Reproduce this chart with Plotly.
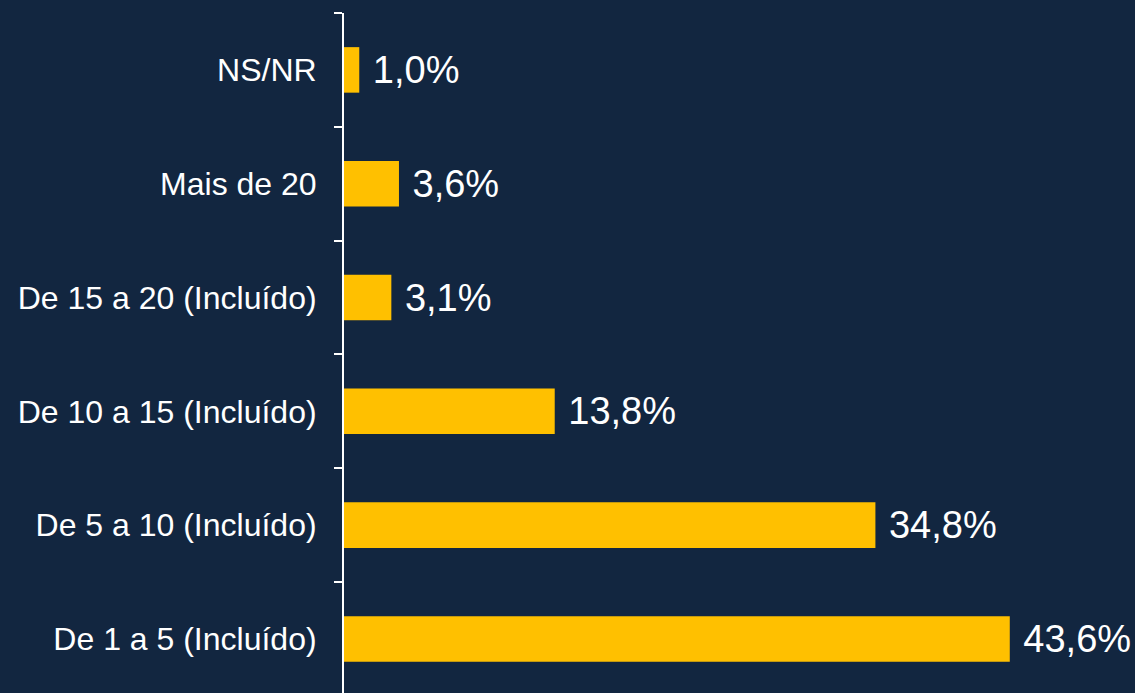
import plotly.graph_objects as go

categories = ["De 1 a 5 (Incluído)", "De 5 a 10 (Incluído)", "De 10 a 15 (Incluído)",
              "De 15 a 20 (Incluído)", "Mais de 20", "NS/NR"]
values = [43.6, 34.8, 13.8, 3.1, 3.6, 1.0]
labels = ["43,6%", "34,8%", "13,8%", "3,1%", "3,6%", "1,0%"]

BG = "#122640"
GOLD = "#FFC000"

fig = go.Figure(go.Bar(
    x=values, y=categories, orientation="h",
    width=0.4,
    marker=dict(color=GOLD, line=dict(width=0)),
    text=["\u00a0" + t for t in labels],
    textposition="outside",
    textfont=dict(color="white", size=38, family="Liberation Sans, Arial"),
    cliponaxis=False,
    hoverinfo="skip",
))

fig.update_layout(
    width=1135, height=693,
    paper_bgcolor=BG, plot_bgcolor=BG,
    font=dict(family="Liberation Sans, Arial", color="white"),
    margin=dict(l=344, r=0, t=13, b=0),
    showlegend=False,
    xaxis=dict(visible=False, range=[0, 51.8], showgrid=False, zeroline=False),
    yaxis=dict(
        type="category",
        showline=True, linecolor="white", linewidth=2,
        ticks="outside", ticklen=8, tickwidth=2, tickcolor="white",
        tickson="boundaries",
        tickfont=dict(size=32, color="white"),
        ticklabelstandoff=19,
        showgrid=False, zeroline=False,
        range=[-0.475, 5.5],
    ),
)

# drop the page's default body margin so the figure fills the window
fig.write_html("out.html", config={"displayModeBar": False},
               post_script="document.body.style.margin='0';")
